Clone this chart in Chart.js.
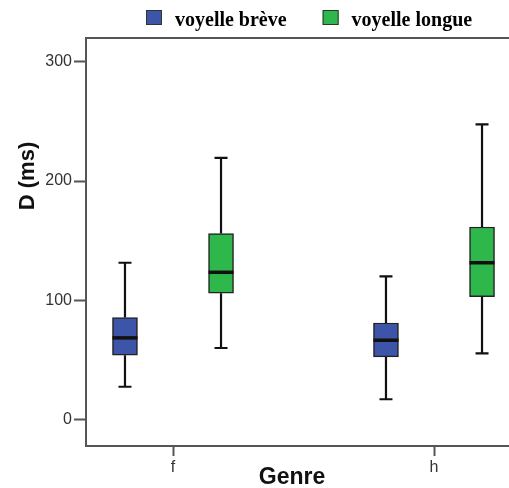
<!DOCTYPE html>
<html>
<head>
<meta charset="utf-8">
<script src="https://cdn.jsdelivr.net/npm/chart.js@4"></script>
<style>
  html, body { margin: 0; padding: 0; background: #fff; }
  #wrap { width: 509px; height: 488px; overflow: hidden; }
  canvas { display: block; }
</style>
</head>
<body>
<div id="wrap"><canvas id="boxChart" width="530" height="488"></canvas></div>
<script>
// durées vocaliques par genre (box plot)
const genres = ["f", "h"];
const yTicks = [0, 100, 200, 300];

const breveMin = [27.5, 17];
const breveQ1 = [54, 52.5];
const breveMedian = [68.5, 66.5];
const breveQ3 = [85.5, 81];
const breveMax = [131.5, 120];

const longueMin = [60, 55.5];
const longueQ1 = [106, 103];
const longueMedian = [123.5, 131.5];
const longueQ3 = [156, 161.5];
const longueMax = [219.5, 247.5];

const boxOffset = 0.184;

function boxData(q1, q3, side) {
  return genres.map((g, i) => ({ x: i + side * boxOffset, y: [q1[i], q3[i]] }));
}

// whiskers, caps and median lines on top of the floating bars
const whiskerPlugin = {
  id: "whiskers",
  afterDatasetsDraw(chart) {
    const ctx = chart.ctx;
    const y = chart.scales.y;
    chart.data.datasets.forEach((ds, di) => {
      const meta = chart.getDatasetMeta(di);
      meta.data.forEach((bar, i) => {
        const x = bar.x;
        const half = bar.width / 2;
        const top = y.getPixelForValue(ds.stats.max[i]);
        const bottom = y.getPixelForValue(ds.stats.min[i]);
        const q3 = y.getPixelForValue(ds.data[i].y[1]);
        const q1 = y.getPixelForValue(ds.data[i].y[0]);
        const med = y.getPixelForValue(ds.stats.median[i]);
        ctx.save();
        ctx.strokeStyle = "#111";
        ctx.lineWidth = 2.2;
        ctx.beginPath();
        ctx.moveTo(x, q3); ctx.lineTo(x, top);
        ctx.moveTo(x, q1); ctx.lineTo(x, bottom);
        ctx.moveTo(x - 6.5, top); ctx.lineTo(x + 6.5, top);
        ctx.moveTo(x - 6.5, bottom); ctx.lineTo(x + 6.5, bottom);
        ctx.stroke();
        ctx.lineWidth = 3.5;
        ctx.beginPath();
        ctx.moveTo(x - half, med); ctx.lineTo(x + half, med);
        ctx.stroke();
        ctx.restore();
      });
    });
  }
};

// frame, legend and axis titles
const decorPlugin = {
  id: "decor",
  beforeDatasetsDraw(chart) {
    const { ctx, chartArea: a } = chart;
    ctx.save();
    ctx.strokeStyle = "#555";
    ctx.lineWidth = 2;
    ctx.beginPath();
    ctx.moveTo(a.left, a.top);
    ctx.lineTo(a.right, a.top);
    ctx.lineTo(a.right, a.bottom);
    ctx.stroke();
    ctx.restore();
  },
  afterDraw(chart) {
    const ctx = chart.ctx;
    ctx.save();
    // legend
    ctx.font = "bold 20px 'Liberation Serif', serif";
    ctx.textBaseline = "alphabetic";
    let x = 146;
    chart.data.datasets.forEach(ds => {
      ctx.fillStyle = ds.backgroundColor;
      ctx.fillRect(x, 10, 16, 15);
      ctx.strokeStyle = "#333";
      ctx.lineWidth = 1;
      ctx.strokeRect(x + 0.5, 10.5, 15, 14);
      ctx.fillStyle = "#000";
      ctx.fillText(ds.label, x + 29, 26);
      x += 29 + ctx.measureText(ds.label).width + 36;
    });
    // axis titles
    ctx.fillStyle = "#111";
    ctx.font = "bold 22px 'Liberation Sans', Arial, sans-serif";
    ctx.textAlign = "center";
    ctx.textBaseline = "middle";
    ctx.translate(28, 176);
    ctx.rotate(-Math.PI / 2);
    ctx.fillText("D (ms)", 0, 0);
    ctx.setTransform(1, 0, 0, 1, 0, 0);
    ctx.font = "bold 23px 'Liberation Sans', Arial, sans-serif";
    ctx.textBaseline = "alphabetic";
    ctx.fillText("Genre", 292, 484);
    ctx.restore();
  }
};

new Chart(document.getElementById("boxChart"), {
  type: "bar",
  data: {
    datasets: [
      {
        label: "voyelle brève",
        data: boxData(breveQ1, breveQ3, -1),
        stats: { min: breveMin, median: breveMedian, max: breveMax },
        backgroundColor: "#3c55a9",
        borderColor: "#222",
        borderWidth: 1.5,
        borderSkipped: false,
        barThickness: 25,
        grouped: false
      },
      {
        label: "voyelle longue",
        data: boxData(longueQ1, longueQ3, 1),
        stats: { min: longueMin, median: longueMedian, max: longueMax },
        backgroundColor: "#2eb84b",
        borderColor: "#222",
        borderWidth: 1.5,
        borderSkipped: false,
        barThickness: 25,
        grouped: false
      }
    ]
  },
  options: {
    responsive: false,
    animation: false,
    layout: { padding: { top: 38, right: 9, left: 0, bottom: 0 } },
    plugins: {
      legend: { display: false },
      tooltip: { enabled: false }
    },
    scales: {
      x: {
        type: "linear",
        min: -1 / 3,
        max: 4 / 3,
        offset: false,
        afterBuildTicks: s => { s.ticks = genres.map((g, i) => ({ value: i })); },
        afterFit: s => { s.height = 42; },
        ticks: {
          callback: v => genres[v],
          color: "#333",
          font: { family: "'Liberation Sans', Arial", size: 16 },
          padding: 2,
          maxRotation: 0
        },
        grid: { drawOnChartArea: false, offset: false, tickLength: 10, tickColor: "#555", tickWidth: 2 },
        border: { color: "#555", width: 2 }
      },
      y: {
        min: -22.2,
        max: 320,
        afterBuildTicks: s => { s.ticks = yTicks.map(v => ({ value: v })); },
        afterFit: s => { s.width = 86; },
        ticks: {
          color: "#333",
          font: { family: "'Liberation Sans', Arial", size: 16 },
          padding: 2
        },
        grid: { drawOnChartArea: false, tickLength: 12, tickColor: "#555", tickWidth: 2 },
        border: { color: "#555", width: 2 }
      }
    }
  },
  plugins: [whiskerPlugin, decorPlugin]
});
</script>
</body>
</html>
